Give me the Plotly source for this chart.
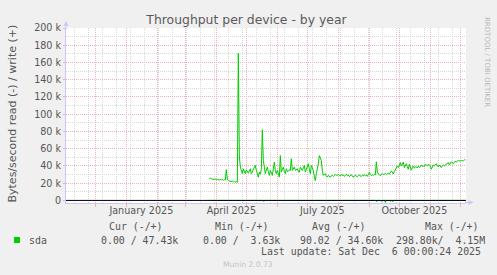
import pandas as pd
import plotly.graph_objects as go

# ---------------- data ----------------
title = "Throughput per device - by year"
y_label = "Bytes/second read (-) / write (+)"
series_name = "sda"

write_start = "2025-03-25"          # first daily sample
write_kb = [
    25.6, 25.9, 25.1, 24.6, 25.0, 24.3, 24.8, 23.9, 24.5, 24.1,
    23.6, 24.4, 23.8, 24.2, 23.5, 24.0, 23.7, 35.8, 24.6, 23.0,
    22.5, 22.1, 21.8, 22.4, 21.5, 21.9, 21.2, 21.6, 21.0, 171.0,
    51.5, 38.6, 33.0, 31.2, 36.7, 33.5, 31.0, 35.5, 33.0, 31.6,
    34.2, 36.7, 31.0, 33.4, 35.5, 37.8, 40.6, 34.8, 30.5, 27.0,
    32.8, 30.4, 36.0, 82.0, 46.0, 34.8, 31.0, 35.2, 38.6, 33.5,
    29.0, 34.8, 31.4, 29.0, 36.5, 44.5, 35.0, 31.0, 34.8, 30.2,
    27.0, 52.0, 32.8, 36.0, 38.6, 33.2, 31.0, 36.7, 33.5, 34.0,
    35.6, 34.8, 48.3, 34.8, 36.4, 38.6, 34.8, 35.9, 36.7, 33.6,
    32.8, 38.6, 36.0, 34.8, 37.9, 40.6, 32.8, 35.4, 38.6, 42.5,
    36.2, 31.0, 40.6, 37.0, 34.8, 27.5, 23.0, 31.0, 36.4, 42.5,
    52.0, 48.5, 46.4, 35.0, 29.0, 30.2, 31.0, 28.4, 27.0, 29.0,
    28.1, 27.0, 28.6, 29.0, 27.8, 28.9, 30.0, 29.0, 29.6, 30.0,
    29.4, 28.2, 30.1, 28.8, 29.6, 27.9, 29.0, 30.4, 28.5, 29.2,
    27.6, 28.8, 29.9, 28.1, 26.8, 28.4, 29.5, 28.0, 27.4, 28.9,
    29.8, 28.2, 27.7, 29.1, 28.4, 30.2, 28.6, 29.3, 27.9, 30.0,
    32.5, 30.2, 28.7, 29.8, 28.9, 30.4, 29.6, 44.8, 33.0, 30.6,
    29.4, 28.7, 30.2, 31.0, 29.8, 30.6, 31.2, 30.1, 30.8, 31.5,
    30.4, 32.5, 34.3, 33.0, 30.6, 33.4, 36.2, 38.5, 40.0, 38.1,
    41.2, 43.8, 40.0, 42.1, 44.5, 38.1, 40.5, 42.6, 39.0, 36.2,
    41.9, 38.4, 35.1, 38.0, 40.0, 37.4, 39.2, 38.9, 37.6, 40.0,
    38.2, 38.9, 41.1, 39.4, 40.0, 39.1, 41.9, 41.1, 40.2, 41.9,
    40.7, 40.0, 36.2, 39.5, 41.1, 40.0, 41.2, 42.6, 40.3, 38.9,
    41.1, 39.6, 38.1, 40.2, 41.1, 40.0, 41.0, 41.9, 42.5, 43.8,
    41.1, 43.2, 44.9, 43.4, 42.6, 44.1, 45.7, 44.5, 45.2, 46.4,
    45.9, 45.7, 46.4, 46.0, 45.7, 46.8, 47.4,
]
# days with a visible read rate (drawn below zero); other days read 0
read_dips_kb = {
    "2025-05-18": 0.9,
    "2025-09-08": 1.2,
    "2025-09-13": 1.0,
    "2025-09-17": 2.3,
    "2025-09-22": 1.1,
    "2025-09-24": 1.3,
}

x_range = ["2024-11-01 16:00", "2025-12-06 16:00"]
y_tick_vals = [0, 20000, 40000, 60000, 80000, 100000, 120000, 140000, 160000, 180000, 200000]
y_tick_text = ["0", "20 k", "40 k", "60 k", "80 k", "100 k", "120 k", "140 k", "160 k", "180 k", "200 k"]
y_minor_vals = [10000, 30000, 50000, 70000, 90000, 110000, 130000, 150000, 170000, 190000]
x_label_vals = ["2025-01-16", "2025-04-16", "2025-07-16", "2025-10-16"]
x_label_text = ["January 2025", "April 2025", "July 2025", "October 2025"]

legend_header = ["Cur (-/+)", "Min (-/+)", "Avg (-/+)", "Max (-/+)"]
legend_values = ["0.00 / 47.43k", "0.00 /  3.63k", "90.02 / 34.60k", "298.80k/  4.15M"]
last_update = "Last update: Sat Dec  6 00:00:24 2025"
footer = "Munin 2.0.73"
watermark = "RRDTOOL / TOBI OETIKER"

# ---------------- derived ----------------
dates = pd.date_range(write_start, periods=len(write_kb), freq="D")
write_bps = [v * 1000 for v in write_kb]
read_bps = [-read_dips_kb.get(d.strftime("%Y-%m-%d"), 0.0) * 1000 for d in dates]

month_lines = pd.date_range("2024-12-01", "2025-12-01", freq="MS")
biweek_lines = pd.date_range("2024-11-10", "2025-12-06", freq="14D")

GREEN = "#00CC00"
TXT = "#555555"
RED_GRID = "#EBB4B4"
GREY_GRID = "#D8D8D8"
AXIS_BLUE = "#C8C8F4"
SANS = "DejaVu Sans"
MONO = "DejaVu Sans Mono"

W, H = 497, 275
L, R, T, B = 66, 31, 28, 72
PW, PH = W - L - R, H - T - B


def px(xp):
    return (xp - L) / PW


def py(yp):
    return (T + PH - yp) / PH


def mono(s):
    return s.replace(" ", "\u00a0")


fig = go.Figure()
fig.add_trace(go.Scatter(x=dates, y=write_bps, mode="lines",
                         line=dict(color=GREEN, width=1), name=series_name,
                         showlegend=False, hoverinfo="skip"))
fig.add_trace(go.Scatter(x=dates, y=read_bps, mode="lines", xaxis="x2",
                         line=dict(color=GREEN, width=1), showlegend=False,
                         hoverinfo="skip"))

fig.update_layout(
    width=W, height=H,
    margin=dict(l=L, r=R, t=T, b=B, pad=0),
    paper_bgcolor="#F0F0F0",
    plot_bgcolor="#FFFFFF",
    showlegend=False,
    title=dict(text=title, x=246.5 / W, xanchor="center", y=1 - 19.5 / H,
               yanchor="middle", yref="container",
               font=dict(family=SANS, size=12.4, color="#5A5A5A")),
    xaxis=dict(
        type="date", range=x_range,
        tickmode="array", tickvals=list(month_lines), showticklabels=False,
        ticks="outside", ticklen=3, tickcolor=RED_GRID, tickwidth=1,
        showgrid=True, gridcolor=RED_GRID, griddash="1px,1px", gridwidth=1,
        minor=dict(tickmode="array", tickvals=list(biweek_lines), showgrid=True,
                   gridcolor=GREY_GRID, griddash="1px,1px", gridwidth=1, ticks=""),
        showline=True, linecolor=AXIS_BLUE, linewidth=1,
        zeroline=False, fixedrange=True,
    ),
    xaxis2=dict(
        type="date", range=x_range, overlaying="x", anchor="y", side="bottom",
        tickmode="array", tickvals=x_label_vals, ticktext=x_label_text,
        showgrid=False, ticks="", showline=False, zeroline=False,
        tickfont=dict(family=SANS, size=9.6, color=TXT),
    ),
    yaxis=dict(
        range=[-3000, 200000],
        tickmode="array", tickvals=y_tick_vals, ticktext=y_tick_text,
        tickfont=dict(family=SANS, size=9.6, color=TXT),
        ticks="outside", ticklen=2, tickcolor=RED_GRID,
        showgrid=True, gridcolor=RED_GRID, griddash="1px,1px", gridwidth=1,
        minor=dict(tickmode="array", tickvals=y_minor_vals, showgrid=True,
                   gridcolor=GREY_GRID, griddash="1px,1px", gridwidth=1, ticks=""),
        showline=True, linecolor=AXIS_BLUE, linewidth=1,
        zeroline=False, fixedrange=True,
    ),
)

# zero line drawn on top of the data
fig.add_shape(type="line", xref="paper", yref="y", x0=0, x1=1, y0=0, y1=0,
              line=dict(color="#000000", width=1), layer="above")
# legend swatch
fig.add_shape(type="rect", xref="paper", yref="paper",
              x0=px(14), x1=px(20), y0=py(243), y1=py(237),
              fillcolor=GREEN, line=dict(width=0))

ann = []
# axis arrows
ann.append(dict(x=0, y=py(21), xref="paper", yref="paper", ax=0, ay=10,
                showarrow=True, arrowhead=2, arrowsize=1, arrowwidth=1,
                arrowcolor=AXIS_BLUE, text=""))
ann.append(dict(x=px(473.5), y=py(202.5), xref="paper", yref="paper", ax=-10, ay=0,
                showarrow=True, arrowhead=2, arrowsize=1, arrowwidth=1,
                arrowcolor=AXIS_BLUE, text=""))
# vertical axis label
ann.append(dict(x=px(12), y=py(113.5), xref="paper", yref="paper", showarrow=False,
                text=y_label, textangle=-90, xanchor="center", yanchor="middle",
                font=dict(family=SANS, size=11, color=TXT)))
# watermark
ann.append(dict(x=px(487), y=py(62), xref="paper", yref="paper", showarrow=False,
                text=watermark, textangle=90, xanchor="center", yanchor="middle",
                font=dict(family=SANS, size=7, color="#B8B8B8")))
# legend table
for xp_, s in zip([107, 213, 310, 422.7], legend_header):
    ann.append(dict(x=px(xp_), y=py(226.7), xref="paper", yref="paper",
                    showarrow=False, text=mono(s), xanchor="left", yanchor="middle",
                    font=dict(family=MONO, size=9.9, color=TXT)))
ann.append(dict(x=px(26.7), y=py(240), xref="paper", yref="paper", showarrow=False,
                text=series_name, xanchor="left", yanchor="middle",
                font=dict(family=MONO, size=9.9, color=TXT)))
for xp_, s in zip([99.3, 201, 297.7, 394], legend_values):
    ann.append(dict(x=px(xp_), y=py(240), xref="paper", yref="paper",
                    showarrow=False, text=mono(s), xanchor="left", yanchor="middle",
                    font=dict(family=MONO, size=9.9, color=TXT)))
ann.append(dict(x=px(483), y=py(251.7), xref="paper", yref="paper", showarrow=False,
                text=mono(last_update), xanchor="right", yanchor="middle",
                font=dict(family=MONO, size=9.9, color=TXT)))
ann.append(dict(x=px(248), y=py(264), xref="paper", yref="paper", showarrow=False,
                text=footer, xanchor="center", yanchor="middle",
                font=dict(family=SANS, size=7.6, color="#C4C4C4")))
fig.update_layout(annotations=ann)

fig.write_html("out.html", config={"displayModeBar": False})
